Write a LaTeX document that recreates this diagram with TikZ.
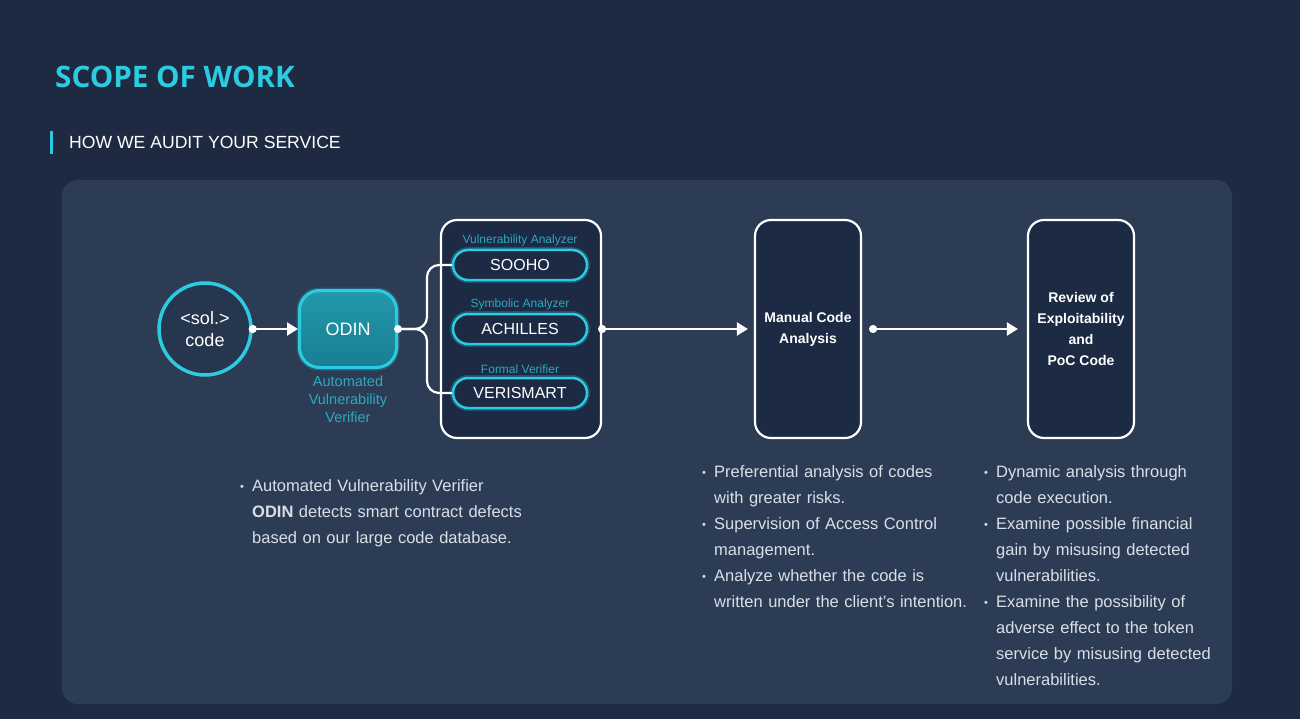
\documentclass[tikz,border=0pt]{standalone}
\usepackage{fontspec}
\setmainfont{Liberation Sans}
\newfontfamily\headFont{Open Sans}
\definecolor{bgPage}{HTML}{1D2A42}
\definecolor{bgPanel}{HTML}{2D3C55}
\definecolor{bgCard}{HTML}{1C2A44}
\definecolor{bgCircle}{HTML}{27364F}
\definecolor{accentCyan}{HTML}{2CCBE0}
\definecolor{odinTop}{HTML}{2399AB}
\definecolor{odinBottom}{HTML}{177E92}
\definecolor{labelCyan}{HTML}{2EA8C0}
\definecolor{textPrimary}{HTML}{FFFFFF}
\definecolor{textBody}{HTML}{D9DFE7}
\usepackage{tikz}
\usetikzlibrary{positioning, arrows.meta}
\tikzset{
  glow/.style={preaction={draw=accentCyan, line width=6pt, opacity=0.25}},
  card/.style={draw=white, line width=2.2pt, fill=bgCard, rounded corners=16pt, inner sep=0pt,
               minimum width=106pt, minimum height=218pt, align=center, text=textPrimary,
               font=\fontsize{14}{21}\selectfont\bfseries},
  pill/.style={draw=accentCyan, line width=2.5pt, fill=bgCard, rounded corners=15pt, inner sep=0pt,
               minimum width=134pt, minimum height=30pt, text=textPrimary, font=\fontsize{16}{16}\selectfont, glow},
  toolTag/.style={text=labelCyan, font=\fontsize{12}{12}\selectfont, inner sep=0pt},
  flow/.style={draw=white, line width=2.2pt, {Circle[length=8pt]}-{Triangle[length=11pt, width=13pt]}},
  wire/.style={draw=white, line width=2.2pt, rounded corners=12pt},
  bulletText/.style={text=textBody, font=\fontsize{16.5}{26}\selectfont, align=left, inner sep=0pt,
                     text width=300pt, anchor=north west}
}
\newcommand{\bulletItem}{\leftskip=12pt\noindent\llap{\makebox[12pt][l]{\raisebox{1pt}{\fontsize{11}{11}\selectfont •}}}}

\begin{document}
\begin{tikzpicture}[x=1pt, y=-1pt]
  \fill[bgPage] (0,0) rectangle (1300,719);
  \useasboundingbox (0,0) rectangle (1300,719);
  \fill[bgPanel, rounded corners=16pt] (62,180) rectangle (1232,704);

  \node[anchor=west, inner sep=0pt, text=accentCyan, font=\headFont\fontsize{29.6}{30}\selectfont\bfseries] (pageTitle) at (55,77) {SCOPE OF WORK};
  \fill[accentCyan] (50,131) rectangle (53,154);
  \node[anchor=west, inner sep=0pt, text=textPrimary, font=\fontsize{17.6}{18}\selectfont] (sectionTitle) at (69,142) {HOW WE AUDIT YOUR SERVICE};

  \node[circle, draw=accentCyan, line width=3.5pt, fill=bgCircle, minimum size=92pt, inner sep=0pt,
        align=center, text=textPrimary, font=\fontsize{18}{22}\selectfont] (solCode) at (205,329) {<sol.>\\code};
  \node[rounded corners=20pt, draw=accentCyan, line width=3pt, top color=odinTop, bottom color=odinBottom,
        minimum width=97pt, minimum height=77pt, text=textPrimary, font=\fontsize{18}{18}\selectfont, glow] (odin) at (348,329) {ODIN};
  \node[below=7pt of odin, align=center, inner sep=0pt, text=labelCyan, font=\fontsize{14.5}{18}\selectfont] (odinTag) {Automated\\Vulnerability\\Verifier};

  \node[card, minimum width=160pt] (analyzerBox) at (521,329) {};
  \node[pill] (sooho) at (520,265) {SOOHO};
  \node[pill] (achilles) at (520,329) {ACHILLES};
  \node[pill] (verismart) at (520,393) {VERISMART};
  \node[toolTag, above=3pt of sooho] (soohoTag) {Vulnerability Analyzer};
  \node[toolTag, above=3pt of achilles] (achillesTag) {Symbolic Analyzer};
  \node[toolTag, above=3pt of verismart] (verismartTag) {Formal Verifier};

  \node[card] (manualBox) at (808,329) {Manual Code\\Analysis};
  \node[card] (reviewBox) at (1081,329) {Review of\\Exploitability\\and\\PoC Code};

  \draw[flow, shorten <=-4pt] (solCode) -- (odin);
  \draw[wire] (odin.east) -- ++(29,0) |- (sooho.west);
  \draw[wire] (odin.east) -- ++(29,0) |- (verismart.west);
  \fill[white] (odin.east) circle (4pt);
  \draw[flow, shorten <=-4pt, shorten >=6pt] (analyzerBox) -- (manualBox);
  \draw[flow, shorten <=7pt, shorten >=9pt] (manualBox) -- (reviewBox);

  \node[bulletText] (odinNotes) at (240,479) {%
    \bulletItem Automated Vulnerability Verifier\\\textbf{ODIN} detects smart contract defects\\based on our large code database.\par};
  \node[bulletText] (manualNotes) at (702,465) {%
    \bulletItem Preferential analysis of codes\\with greater risks.\\
    \bulletItem Supervision of Access Control\\management.\\
    \bulletItem Analyze whether the code is\\written under the client’s intention.\par};
  \node[bulletText] (reviewNotes) at (984,465) {%
    \bulletItem Dynamic analysis through\\code execution.\\
    \bulletItem Examine possible financial\\gain by misusing detected\\vulnerabilities.\\
    \bulletItem Examine the possibility of\\adverse effect to the token\\service by misusing detected\\vulnerabilities.\par};
\end{tikzpicture}
\end{document}
